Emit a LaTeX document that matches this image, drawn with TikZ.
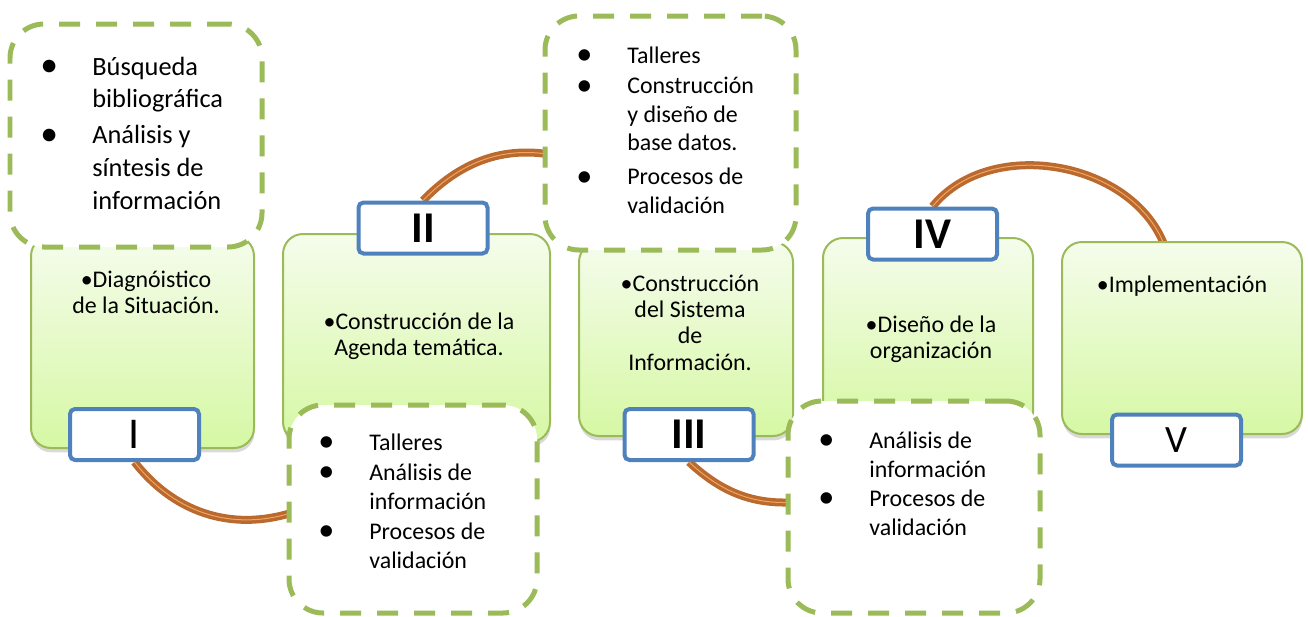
\documentclass[tikz,border=0pt]{standalone}
\usepackage{fontspec}
\setmainfont{Carlito}
\usetikzlibrary{shadows,backgrounds}
\newlength\pxu \setlength\pxu{0.02cm}
\definecolor{gborder}{RGB}{155,187,89}
\definecolor{gtop}{RGB}{245,252,236}
\definecolor{gbot}{RGB}{214,248,164}
\definecolor{bblue}{RGB}{79,129,189}
\definecolor{arcc}{RGB}{186,106,46}
\definecolor{arcl}{RGB}{242,165,95}
\newcommand\bl{\makebox[43\pxu][l]{\makebox[0pt]{\raisebox{-0.06em}{\scalebox{1.35}{\textbullet}}}}}
\tikzset{
  gbox/.style={draw=gborder, line width=0.04cm, rounded corners=0.4cm, top color=gtop, bottom color=gbot,
    drop shadow={shadow xshift=0.3pt, shadow yshift=-2.5pt, opacity=0.3}, inner sep=0},
  dbox/.style={draw=gborder, line width=0.1cm, dash pattern=on 0.42cm off 0.32cm, rounded corners=0.68cm, fill=white, inner sep=0},
  badge/.style={draw=bblue, line width=0.08cm, rounded corners=0.1cm, fill=white,
    minimum width=129\pxu, minimum height=51\pxu, inner sep=0},
  link/.style={draw=arcc, double=arcl, double distance=0.02cm, line width=0.07cm},
  gtext/.style={font=\fontsize{13.6pt}{15pt}\selectfont, inner sep=0, anchor=base},
  dtext/.style={inner sep=0, anchor=base west},
  numb/.style={font=\fontsize{25pt}{25pt}\selectfont\bfseries},
  numr/.style={font=\fontsize{25pt}{25pt}\selectfont}
}
\begin{document}
\begin{tikzpicture}[x=0.02cm,y=-0.02cm]
\useasboundingbox (0,0) rectangle (1308,616);
% green boxes
\node[gbox, minimum width=223\pxu, minimum height=212\pxu] (g1) at (142.5,342) {};
\node[gbox, minimum width=267\pxu, minimum height=208\pxu] (g2) at (416.5,338) {};
\node[gbox, minimum width=214\pxu, minimum height=194\pxu] (g3) at (686,339) {};
\node[gbox, minimum width=210\pxu, minimum height=194\pxu] (g4) at (928,335) {};
\node[gbox, minimum width=240\pxu, minimum height=192\pxu] (g5) at (1182,338) {};
% dashed boxes
\node[dbox, minimum width=252\pxu, minimum height=223\pxu] (d1) at (136,135.5) {};
\node[dbox, minimum width=248\pxu, minimum height=208\pxu] (d2) at (413,509) {};
\node[dbox, minimum width=251\pxu, minimum height=234\pxu] (d3) at (670.5,133) {};
\node[dbox, minimum width=252\pxu, minimum height=212\pxu] (d4) at (914,507) {};
% badges
\node[badge, numr] (b1) at (134.5,434.5) {I};
\node[badge, numb] (b2) at (423,228) {II};
\node[badge, numb] (b3) at (689,434.5) {III};
\node[badge, numb] (b4) at (932.5,234) {IV};
\node[badge, font=\fontsize{22pt}{22pt}\selectfont] (b5) at (1176.5,440) {V};
% green box texts
\node[gtext] (t1) at (146,287) {\begin{tabular}[t]{@{}c@{}}•Diagnóistico\\de la Situación.\end{tabular}};
\node[gtext] (t2) at (419,329) {\begin{tabular}[t]{@{}c@{}}•Construcción de la\\Agenda temática.\end{tabular}};
\node[gtext] (t3) at (690,291) {\begin{tabular}[t]{@{}c@{}}•Construcción\\del Sistema\\de\\Información.\end{tabular}};
\node[gtext] (t4) at (931,332) {\begin{tabular}[t]{@{}c@{}}•Diseño de la\\organización\end{tabular}};
\node[gtext] (t5) at (1182,292) {•Implementación};
% dashed box texts
\node[dtext, font=\fontsize{15pt}{18.7pt}\selectfont] (s1) at (49,75) {\begin{tabular}[t]{@{}l@{}l@{}}
\bl & Búsqueda\\ & bibliográfica\\[1.7pt]
\bl & Análisis y\\ & síntesis de\\ & información\end{tabular}};
\node[dtext, font=\fontsize{13.6pt}{16.4pt}\selectfont] (s2) at (326,450) {\begin{tabular}[t]{@{}l@{}l@{}}
\bl & Talleres\\[0.8pt]
\bl & Análisis de\\ & información\\[0.8pt]
\bl & Procesos de\\ & validación\end{tabular}};
\node[dtext, font=\fontsize{13.6pt}{16.2pt}\selectfont] (s3) at (584,63) {\begin{tabular}[t]{@{}l@{}l@{}}
\bl & Talleres\\[1.4pt]
\bl & Construcción\\ & y diseño de\\ & base datos.\\[3pt]
\bl & Procesos de\\ & validación\end{tabular}};
\node[dtext, font=\fontsize{13.6pt}{16.6pt}\selectfont] (s4) at (826,448) {\begin{tabular}[t]{@{}l@{}l@{}}
\bl & Análisis de\\ & información\\
\bl & Procesos de\\ & validación\end{tabular}};
% arc ends hidden under boxes
\coordinate (c1) at (300,510);
\coordinate (c2) at (570,159);
\coordinate (c3) at (810,500.6);
\coordinate (c4) at (1166,250);
\begin{pgfonlayer}{background}
\draw[link] (b1.south) to[out=-52,in=200] (c1);
\draw[link] (b2.north) to[out=46,in=164] (c2);
\draw[link] (b3.south) to[out=-43,in=188] (c3);
\draw[link] (b4.north) to[out=51,in=108] (c4);
\end{pgfonlayer}
\end{tikzpicture}
\end{document}
